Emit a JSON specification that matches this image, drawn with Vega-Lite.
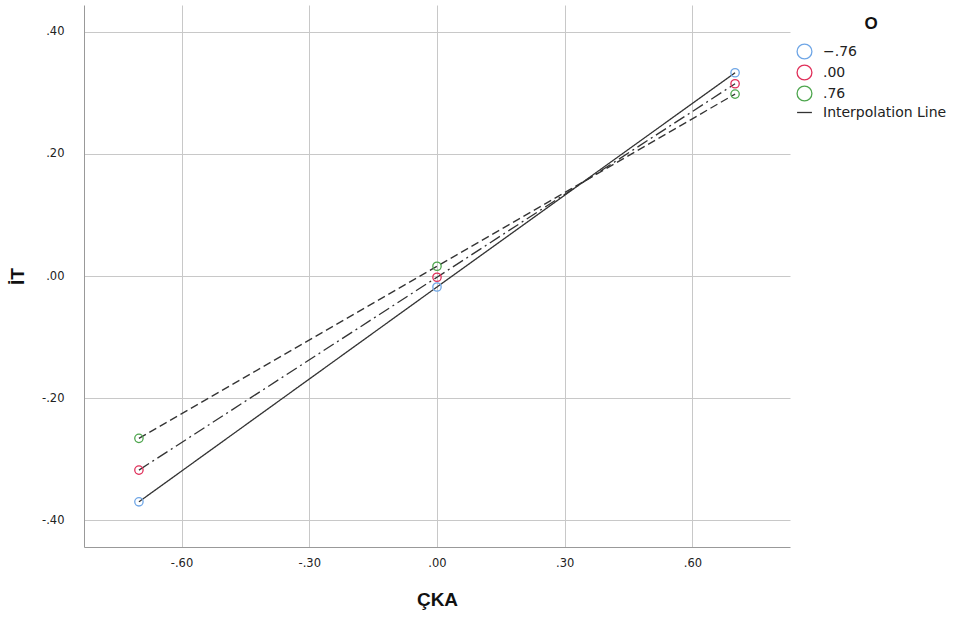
{
  "$schema": "https://vega.github.io/schema/vega-lite/v6.json",
  "width": 706,
  "height": 542,
  "autosize": {"type": "none"},
  "padding": {"left": 84, "top": 5, "right": 184, "bottom": 72},
  "background": "white",
  "config": {
    "view": {"stroke": null},
    "font": "DejaVu Sans",
    "axis": {"gridColor": "#c8c8c8", "gridWidth": 1, "domainColor": "#999999", "ticks": false, "labelFontSize": 11.5, "labelColor": "#222222", "titleFontSize": 19, "titleFontWeight": "bold", "titleColor": "#111111", "titleFont": "Liberation Sans"},
    "legend": {"orient": "none", "legendX": 712, "legendY": 11, "titleAnchor": "middle", "titleFontSize": 17, "titleFont": "Liberation Sans", "titleFontWeight": "bold", "titleColor": "#111111", "titlePadding": 10, "labelFontSize": 14, "labelColor": "#222222", "labelFont": "DejaVu Sans", "symbolSize": 220, "symbolStrokeWidth": 1.3, "rowPadding": 0, "labelOffset": 10}
  },
  "data": {
    "values": [
      {"CKA": -0.70, "IT": -0.370, "O": "−.76"},
      {"CKA": 0.00, "IT": -0.018, "O": "−.76"},
      {"CKA": 0.70, "IT": 0.333, "O": "−.76"},
      {"CKA": -0.70, "IT": -0.318, "O": ".00"},
      {"CKA": 0.00, "IT": -0.002, "O": ".00"},
      {"CKA": 0.70, "IT": 0.315, "O": ".00"},
      {"CKA": -0.70, "IT": -0.266, "O": ".76"},
      {"CKA": 0.00, "IT": 0.016, "O": ".76"},
      {"CKA": 0.70, "IT": 0.298, "O": ".76"}
    ]
  },
  "encoding": {
    "x": {"field": "CKA", "type": "quantitative", "title": "ÇKA",
      "scale": {"domain": [-0.829, 0.829], "nice": false, "zero": false},
      "axis": {"values": [-0.6, -0.3, 0, 0.3, 0.6], "labelExpr": "replace(replace(format(datum.value, '.2f'), '0.', '.'), '−', '-')", "labelPadding": 10, "titlePadding": 22}},
    "y": {"field": "IT", "type": "quantitative", "title": "İT",
      "scale": {"domain": [-0.444, 0.444], "nice": false, "zero": false},
      "axis": {"values": [-0.4, -0.2, 0, 0.2, 0.4], "labelExpr": "replace(replace(format(datum.value, '.2f'), '0.', '.'), '−', '-')", "labelPadding": 20, "titlePadding": 14}}
  },
  "layer": [
    {
      "mark": {"type": "line", "color": "#333333", "strokeWidth": 1.3},
      "encoding": {
        "detail": {"field": "O"},
        "strokeDash": {"field": "O", "type": "nominal", "legend": null,
          "scale": {"domain": ["−.76", ".00", ".76"], "range": [[1, 0], [12, 4, 2, 4], [8, 4]]}}
      }
    },
    {
      "mark": {"type": "point", "filled": false, "size": 70, "strokeWidth": 1.3, "opacity": 1},
      "encoding": {
        "color": {"field": "O", "type": "nominal", "title": "O",
          "scale": {"domain": ["−.76", ".00", ".76", "Interpolation Line"], "range": ["#6fa6e6", "#e0305a", "#4ea64e", "#333333"]}},
        "shape": {"field": "O", "type": "nominal", "title": "O",
          "scale": {"domain": ["−.76", ".00", ".76", "Interpolation Line"], "range": ["circle", "circle", "circle", "stroke"]}}
      }
    }
  ]
}
